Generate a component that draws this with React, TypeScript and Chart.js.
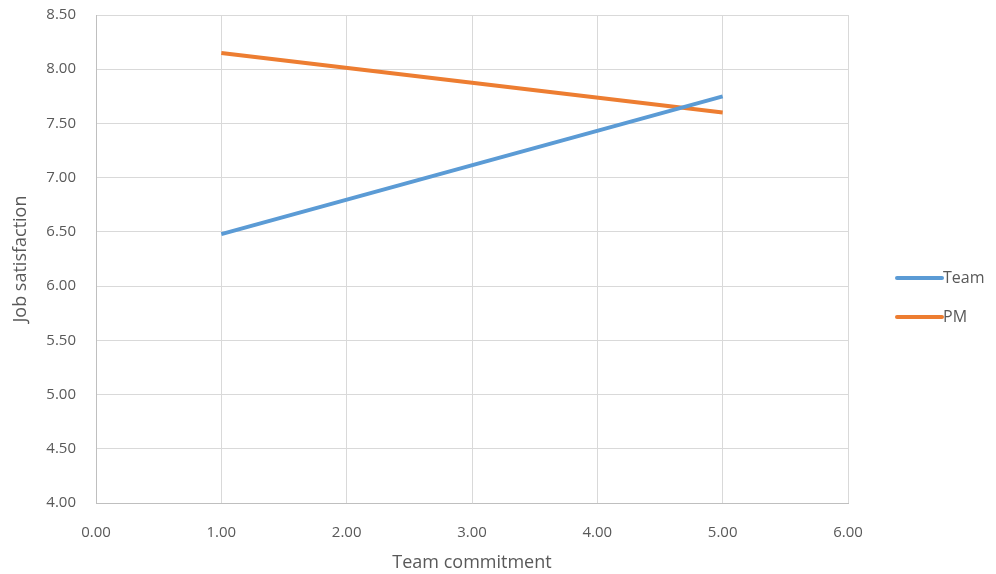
import React, { useEffect, useRef } from "react";
import { Chart, registerables } from "chart.js";

Chart.register(...registerables);

const commitment = [1, 5];
const teamValues = [6.48, 7.75];
const pmValues = [8.15, 7.6];
const seriesNames = ["Team", "PM"];
const seriesColors = ["#5b9bd5", "#ed7d31"];

const FONT = "'Open Sans', 'DejaVu Sans', sans-serif";
const TEXT = "#595959";

// Legend drawn at the right of the plot, Excel-style line swatches
const sideLegend = {
  id: "sideLegend",
  afterDraw(chart: Chart) {
    const ctx = chart.ctx;
    const area = chart.chartArea;
    const startX = area.right + 49;
    const lineLen = 45;
    const baseY = 278;
    const gap = 39;
    ctx.save();
    chart.data.datasets.forEach((ds: any, i: number) => {
      const y = baseY + i * gap;
      ctx.strokeStyle = ds.borderColor;
      ctx.lineWidth = 4;
      ctx.lineCap = "round";
      ctx.beginPath();
      ctx.moveTo(startX, y);
      ctx.lineTo(startX + lineLen, y);
      ctx.stroke();
      ctx.fillStyle = TEXT;
      ctx.font = `16px ${FONT}`;
      ctx.textBaseline = "middle";
      ctx.textAlign = "left";
      ctx.fillText(ds.label, startX + lineLen + 1, y);
    });
    ctx.restore();
  },
};

export default function App() {
  const ref = useRef<HTMLCanvasElement>(null);

  useEffect(() => {
    document.body.style.margin = "0";
    const chart = new Chart(ref.current!, {
      type: "scatter",
      data: {
        datasets: [
          {
            label: seriesNames[0],
            data: commitment.map((x, i) => ({ x, y: teamValues[i] })),
            borderColor: seriesColors[0],
            backgroundColor: seriesColors[0],
            showLine: true,
            borderWidth: 4,
            pointRadius: 0,
          },
          {
            label: seriesNames[1],
            data: commitment.map((x, i) => ({ x, y: pmValues[i] })),
            borderColor: seriesColors[1],
            backgroundColor: seriesColors[1],
            showLine: true,
            borderWidth: 4,
            pointRadius: 0,
          },
        ],
      },
      options: {
        animation: false,
        responsive: false,
        layout: { padding: { top: 15, right: 148, left: 0, bottom: 0 } },
        plugins: {
          legend: { display: false },
          tooltip: { enabled: false },
        },
        scales: {
          x: {
            type: "linear",
            min: 0,
            max: 6,
            ticks: {
              stepSize: 1,
              padding: 21,
              color: TEXT,
              font: { family: FONT, size: 15 },
              callback: (v: any) => Number(v).toFixed(2),
            },
            grid: { color: "#d9d9d9", drawTicks: false },
            border: { color: "#bfbfbf" },
            title: {
              display: true,
              text: "Team commitment",
              color: TEXT,
              font: { family: FONT, size: 18 },
              padding: { top: 10, bottom: 0 },
            },
            afterFit: (s: any) => {
              s.height = 71;
              s.paddingLeft = 0;
              s.paddingRight = 0;
            },
          },
          y: {
            type: "linear",
            min: 4,
            max: 8.5,
            ticks: {
              stepSize: 0.5,
              padding: 20,
              color: TEXT,
              font: { family: FONT, size: 15 },
              callback: (v: any) => Number(v).toFixed(2),
            },
            grid: { color: "#d9d9d9", drawTicks: false },
            border: { color: "#bfbfbf" },
            title: {
              display: true,
              text: "Job satisfaction",
              color: TEXT,
              font: { family: FONT, size: 18 },
              padding: { top: 10, bottom: 0 },
            },
            afterFit: (s: any) => {
              s.width = 96;
              s.paddingTop = 0;
              s.paddingBottom = 0;
            },
          },
        },
      },
      plugins: [sideLegend],
    });
    return () => chart.destroy();
  }, []);

  return (
    <div style={{ width: 996, height: 574, background: "#fff" }}>
      <canvas ref={ref} width={996} height={574} />
    </div>
  );
}
